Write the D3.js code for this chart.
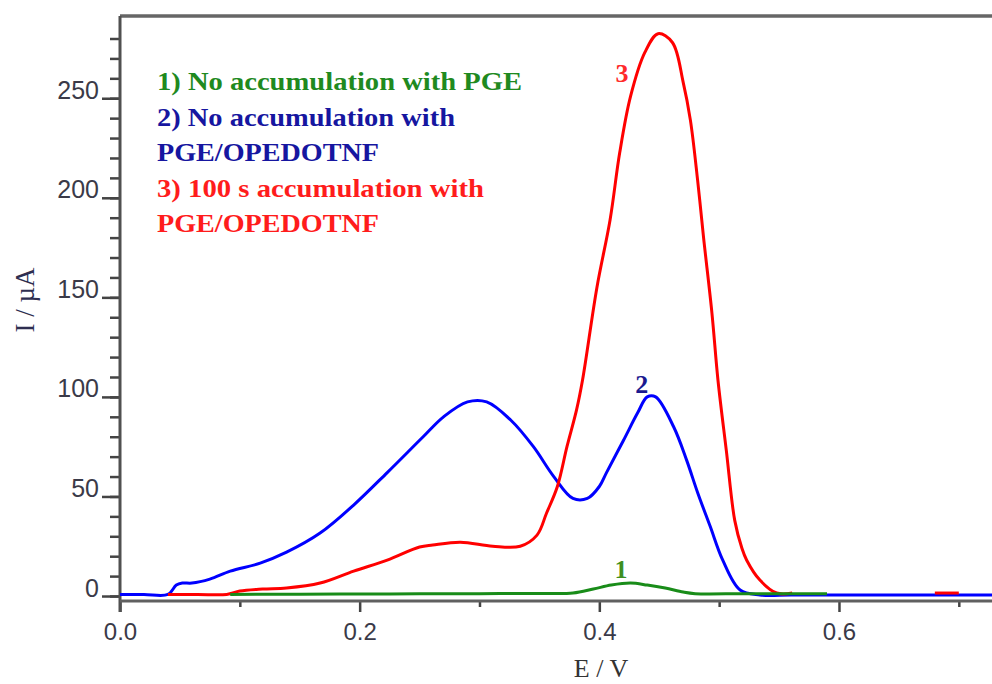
<!DOCTYPE html>
<html>
<head>
<meta charset="utf-8">
<script src="https://cdn.jsdelivr.net/npm/d3@7"></script>
<style>
  body { margin: 0; background: #fff; }
  svg { display: block; }
</style>
</head>
<body>
<script>
const WIDTH = 992;
const HEIGHT = 684;

// curve 1: no accumulation with PGE
const greenE = [0.092, 0.150, 0.200, 0.250, 0.300, 0.350, 0.378, 0.395, 0.410, 0.426, 0.440,
                0.455, 0.470, 0.480, 0.520, 0.560, 0.590];
const greenI = [0.8, 0.9, 1.0, 1.1, 1.2, 1.3, 1.5, 3.5, 5.5, 6.5, 5.5,
                4, 2, 1.2, 1.2, 1.2, 1.2];

// curve 2: no accumulation with PGE/OPEDOTNF
const blueE = [0.000, 0.020, 0.040, 0.047, 0.052, 0.060, 0.075, 0.092, 0.117, 0.139, 0.167,
               0.195, 0.223, 0.253, 0.270, 0.290, 0.306, 0.326, 0.345, 0.362, 0.378, 0.390,
               0.400, 0.406, 0.420, 0.432, 0.440, 0.447, 0.462, 0.473, 0.482, 0.4925, 0.503,
               0.5175, 0.534, 0.560, 0.600, 0.650, 0.700, 0.728];
const blueI = [0.8, 0.8, 0.8, 5.5, 6.5, 6.5, 8.5, 12.5, 16.5, 22, 31.6,
               45.7, 62, 80, 90, 97.5, 97.5, 88.4, 75, 60, 49, 49,
               55, 62, 78, 92, 100, 100, 85, 68, 52, 35, 18,
               3, 0.5, 0.5, 0.5, 0.5, 0.5, 0.5];

// curve 3: 100 s accumulation with PGE/OPEDOTNF
const redE = [0.040, 0.065, 0.089, 0.100, 0.119, 0.139, 0.167, 0.195, 0.223, 0.250, 0.261, 0.284,
              0.311, 0.334, 0.348, 0.356, 0.365, 0.373, 0.381, 0.386, 0.398, 0.409, 0.417,
              0.426, 0.438, 0.449, 0.461, 0.470, 0.476, 0.482, 0.487, 0.494, 0.499, 0.506,
              0.513, 0.519, 0.523, 0.534, 0.548, 0.561];
const redI = [0.8, 0.8, 0.8, 2.5, 3.5, 4, 6.5, 12.5, 18, 24.6, 25.6, 27,
              25, 25, 30.6, 41.7, 55, 75, 93.5, 108.5, 155, 189, 222.6,
              250.8, 273, 282.4, 278, 258, 239, 209, 180, 142, 108.5, 73,
              38, 24, 18, 8, 1.5, 1.5];
const redTailE = [0.680, 0.700];
const redTailI = [1.5, 1.5];

const xMajor = [0, 0.2, 0.4, 0.6];
const xMinor = [0.1, 0.3, 0.5, 0.7];
const yMajor = [0, 50, 100, 150, 200, 250];
const yMinor = d3.range(0, 290, 10);

const legendLines = [
    {text: "1) No accumulation with PGE", color: "#1f8a1f", len: 365},
    {text: "2) No accumulation with", color: "#1616a0", len: 298},
    {text: "PGE/OPEDOTNF", color: "#1616a0", len: 222},
    {text: "3) 100 s accumulation with", color: "#ff1c1c", len: 327},
    {text: "PGE/OPEDOTNF", color: "#ff1c1c", len: 222}
];

const peakLabels = [
    {text: "3", e: 0.419, i: 258, color: "#ff2a2a"},
    {text: "2", e: 0.4355, i: 102, color: "#1a1a90"},
    {text: "1", e: 0.418, i: 9, color: "#3f8f1f"}
];

const xScale = d3.scaleLinear().domain([0, 0.7277]).range([120, 992]);
const yScale = d3.scaleLinear().domain([-2.5, 291.3]).range([601, 16]);

const svg = d3.select("body").append("svg")
    .attr("width", WIDTH)
    .attr("height", HEIGHT);

// frame: top line
svg.append("line")
    .attr("x1", xScale(0)).attr("x2", WIDTH)
    .attr("y1", yScale.range()[1]).attr("y2", yScale.range()[1])
    .attr("stroke", "#666").attr("stroke-width", 3.5);

const yMinorAxis = d3.axisLeft(yScale).tickValues(yMinor).tickSize(10).tickFormat("");
const yAxis = d3.axisLeft(yScale).tickValues(yMajor).tickSize(18).tickPadding(3);

svg.append("g").attr("transform", "translate(120,0)").call(yMinorAxis)
    .call(g => g.select(".domain").remove());
const gy = svg.append("g").attr("transform", "translate(120,0)").call(yAxis)
    .call(g => g.select(".domain").remove());
gy.selectAll("text").attr("dy", "0")
    .style("font-family", "'Liberation Sans', Arial, sans-serif")
    .style("font-size", "25px").attr("fill", "#3a3a48");

const xMinorAxis = d3.axisBottom(xScale).tickValues(xMinor).tickSize(6).tickFormat("");
const xAxis = d3.axisBottom(xScale).tickValues(xMajor).tickSize(11).tickPadding(11)
    .tickFormat(d3.format(".1f"));

svg.append("g").attr("transform", "translate(0,601)").call(xMinorAxis)
    .call(g => g.select(".domain").remove());
const gx = svg.append("g").attr("transform", "translate(0,601)").call(xAxis)
    .call(g => g.select(".domain").remove());
gx.selectAll("text")
    .style("font-family", "'Liberation Sans', Arial, sans-serif")
    .style("font-size", "24px").attr("fill", "#3a3a48");

svg.selectAll(".tick line").attr("stroke", "#444").attr("stroke-width", 2.5);

// left and bottom axis lines
svg.append("line")
    .attr("x1", 120).attr("x2", 120)
    .attr("y1", 16).attr("y2", 612)
    .attr("stroke", "#505050").attr("stroke-width", 3);
svg.append("line")
    .attr("x1", 120).attr("x2", WIDTH)
    .attr("y1", 601).attr("y2", 601)
    .attr("stroke", "#606060").attr("stroke-width", 3);

// curves
const line = d3.line()
    .x(d => xScale(d[0]))
    .y(d => yScale(d[1]))
    .curve(d3.curveCatmullRom.alpha(0.5));

const series = [
    {e: blueE, i: blueI, color: "#0000ff"},
    {e: redE, i: redI, color: "#ff0000"},
    {e: redTailE, i: redTailI, color: "#ff0000"},
    {e: greenE, i: greenI, color: "#198c19"}
];

series.forEach(s => {
    svg.append("path")
        .datum(d3.zip(s.e, s.i))
        .attr("d", line)
        .attr("fill", "none")
        .attr("stroke", s.color)
        .attr("stroke-width", 3)
        .attr("stroke-linejoin", "round");
});

// legend
svg.append("g").selectAll("text")
    .data(legendLines)
    .join("text")
    .attr("x", 157)
    .attr("y", (d, i) => 90 + i * 35.5)
    .attr("textLength", d => d.len)
    .attr("lengthAdjust", "spacingAndGlyphs")
    .attr("fill", d => d.color)
    .style("font-family", "'Liberation Serif', 'Times New Roman', serif")
    .style("font-weight", "bold")
    .style("font-size", "26px")
    .text(d => d.text);

// peak numbers
svg.append("g").selectAll("text")
    .data(peakLabels)
    .join("text")
    .attr("x", d => xScale(d.e))
    .attr("y", d => yScale(d.i))
    .attr("text-anchor", "middle")
    .attr("fill", d => d.color)
    .style("font-family", "'Liberation Serif', 'Times New Roman', serif")
    .style("font-weight", "bold")
    .style("font-size", "26px")
    .text(d => d.text);

// axis titles
svg.append("text")
    .attr("x", 601).attr("y", 677)
    .attr("text-anchor", "middle")
    .attr("fill", "#333")
    .style("font-family", "'Liberation Serif', 'Times New Roman', serif")
    .style("font-size", "26px")
    .text("E / V");

svg.append("text")
    .attr("transform", "translate(34,300) rotate(-90)")
    .attr("text-anchor", "middle")
    .attr("fill", "#2e2e50")
    .style("font-family", "'Liberation Serif', 'Times New Roman', serif")
    .style("font-size", "27px")
    .text("I / µA");
</script>
</body>
</html>
